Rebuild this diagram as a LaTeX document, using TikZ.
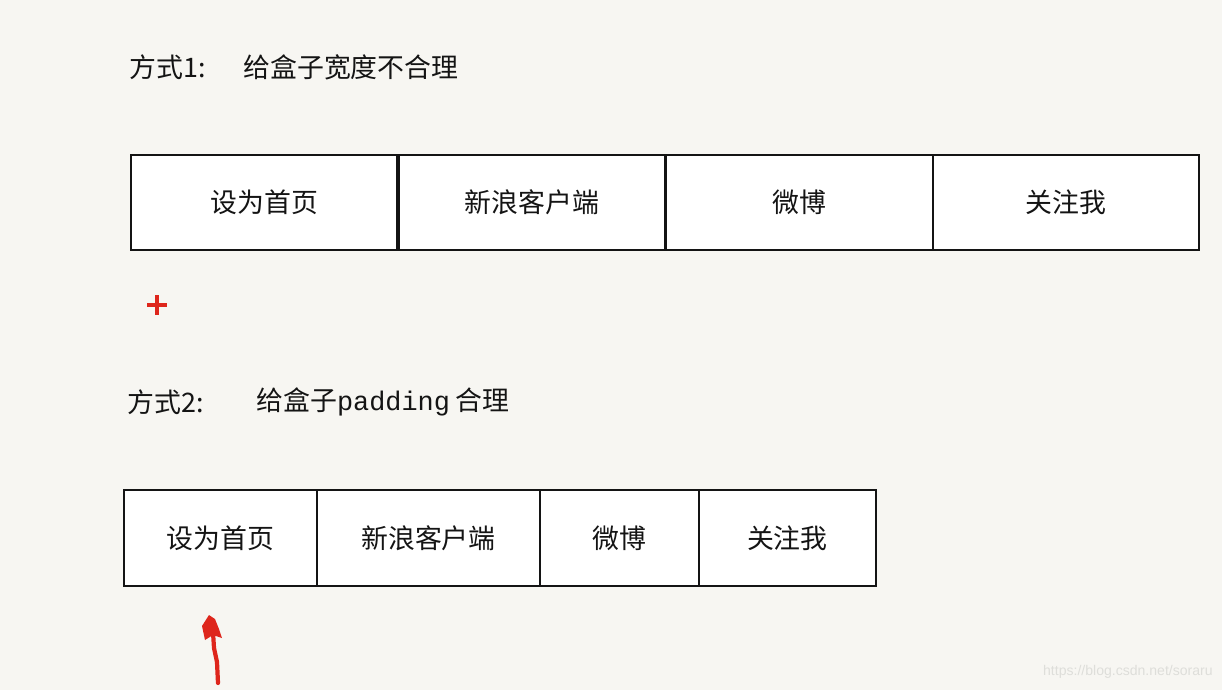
\documentclass[tikz,border=0pt]{standalone}
\usepackage{fontspec}
\setmainfont{Noto Sans CJK SC}
\newfontfamily\padfont{Liberation Mono}
\newfontfamily\wmfont{Liberation Sans}
\usetikzlibrary{positioning}
\definecolor{bgpaper}{RGB}{247,246,242}
\definecolor{wmgray}{RGB}{222,222,218}
\definecolor{markred}{RGB}{222,38,28}
\definecolor{inkblack}{RGB}{20,20,20}

\begin{document}
\begin{tikzpicture}[x=0.02cm,y=-0.02cm,
	navbox/.style={draw=inkblack, fill=white, line width=1pt, outer sep=0pt, inner sep=0pt,
		text=inkblack, font=\fontsize{15.3}{18}\selectfont},
	rowone/.style={navbox, minimum height=1.9cm},
	rowtwo/.style={navbox, minimum height=1.92cm, line width=0.8pt},
	caption/.style={anchor=west, inner sep=0pt, text=inkblack, font=\fontsize{15.3}{18}\selectfont}]
			%%%	Sfondo
			\fill[bgpaper] (0,0) rectangle (1222,690);
			\useasboundingbox (0,0) rectangle (1222,690);
			%%%	Modo 1
			\node[caption] (titleA) at (129,67) {方式1:};
			\node[caption] (textA) at (243,67) {给盒子宽度不合理};
			\node[rowone, minimum width=5.34cm, anchor=north west] (a1) at (131,155) {设为首页};
			\node[rowone, minimum width=5.36cm, right=0pt of a1] (a2) {新浪客户端};
			\node[rowone, minimum width=5.34cm, right=0pt of a2] (a3) {微博};
			\node[rowone, minimum width=5.32cm, right=0pt of a3] (a4) {关注我};
			%	bordi spessi
			\draw[inkblack, line width=1.8pt] (a1.north east) -- (a1.south east);
			\draw[inkblack, line width=1.8pt] (a2.north east) -- (a2.south east);
			%	segno piu
			\draw[markred, line width=2.2pt] (147,305) -- (167,305) (157,295) -- (157,315);
			%%%	Modo 2
			\node[caption] (titleB) at (127,402) {方式2:};
			\node[caption] (textB) at (256,402) {给盒子{\padfont padding} 合理};
			\node[rowtwo, minimum width=3.86cm, anchor=north west] (b1) at (124,490) {设为首页};
			\node[rowtwo, minimum width=4.46cm, right=0pt of b1] (b2) {新浪客户端};
			\node[rowtwo, minimum width=3.18cm, right=0pt of b2] (b3) {微博};
			\node[rowtwo, minimum width=3.54cm, right=0pt of b3] (b4) {关注我};
			%	freccia a mano
			\draw[markred, line width=2.4pt, line cap=round, line join=round]
			(218,683) -- (217,662) -- (214,648) -- (213,632);
			\fill[markred] (209,615) -- (202,626) -- (205,640) -- (213,635) -- (222,638) -- (219,629) -- (215,619) -- cycle;
			%%%	Filigrana
			\node[anchor=east, inner sep=0pt, text=wmgray, font=\wmfont\fontsize{8}{10}\selectfont] (wm) at (1213,672) {https://blog.csdn.net/soraru};
		\end{tikzpicture}
\end{document}
